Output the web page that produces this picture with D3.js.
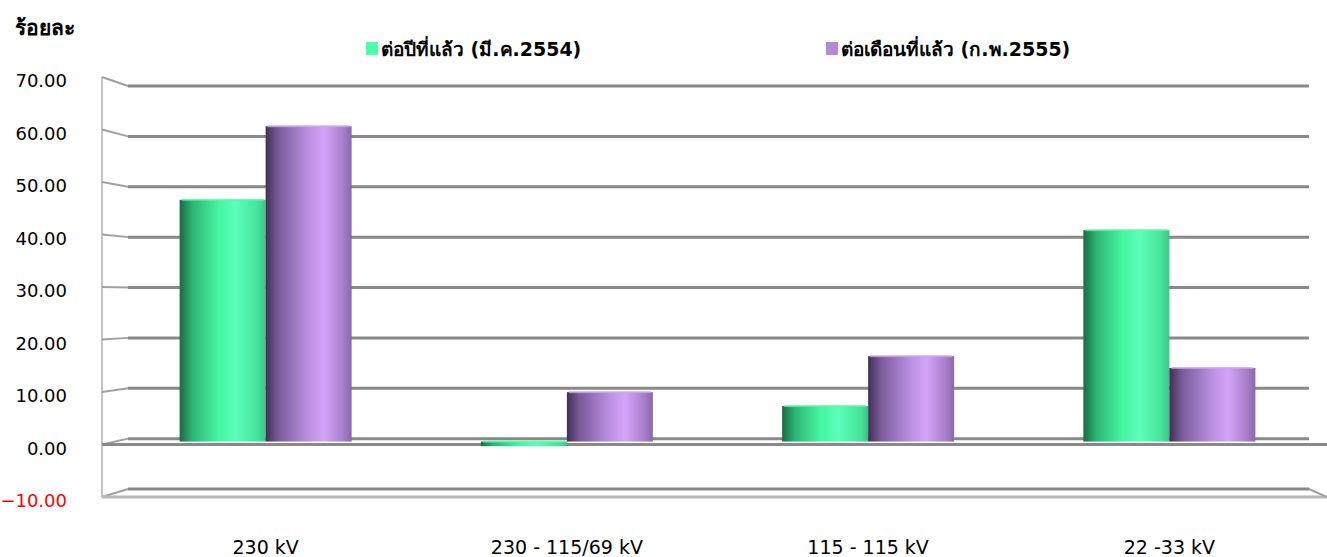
<!DOCTYPE html>
<html>
<head>
<meta charset="utf-8">
<script src="https://cdn.jsdelivr.net/npm/d3@7"></script>
<style>
  body { margin: 0; background: #fff; }
  text { font-family: Tahoma, "DejaVu Sans", "Noto Sans", sans-serif; }
</style>
</head>
<body>
<svg width="1327" height="557"></svg>
<script>
const categories = ["230 kV", "230 - 115/69 kV", "115 - 115 kV", "22 -33 kV"];
const seriesNames = ["ต่อปีที่แล้ว (มี.ค.2554)", "ต่อเดือนที่แล้ว (ก.พ.2555)"];
const yearValues = [47.0, -0.9, 6.9, 41.1];
const monthValues = [61.3, 9.6, 16.6, 14.3];
const ticks = [-10, 0, 10, 20, 30, 40, 50, 60, 70];

const svg = d3.select("svg");
const defs = svg.append("defs");

// cylinder shading
function gradient(id, stops) {
  const g = defs.append("linearGradient").attr("id", id)
    .attr("x1", "0%").attr("x2", "100%").attr("y1", "0%").attr("y2", "0%");
  stops.forEach(([o, c]) => g.append("stop").attr("offset", o).attr("stop-color", c));
}
gradient("gGreen", [["0%", "#1b6a42"], ["15%", "#2db574"], ["45%", "#44f59f"], ["65%", "#5cffbb"], ["90%", "#46e49b"], ["100%", "#38c784"]]);
gradient("gPurple", [["0%", "#3f3156"], ["15%", "#7b5b9b"], ["50%", "#bb90e2"], ["68%", "#d3a4f8"], ["90%", "#a87eca"], ["100%", "#8c66ae"]]);

const yBack = d3.scaleLinear().domain([-10, 70]).range([489, 86]);
const yFront = d3.scaleLinear().domain([-10, 70]).range([497, 77]);
const yBar = d3.scaleLinear().domain([-10, 70]).range([493, 81.5]);

const x0 = d3.scaleBand().domain(categories).range([115, 1320]);
const x1 = d3.scaleBand().domain([0, 1]).range([0, 172]);
const groupLeft = c => x0(c) + (x0.bandwidth() - 172) / 2;

// left wall
svg.append("line").attr("x1", 102).attr("x2", 102).attr("y1", yFront(70)).attr("y2", yFront(-10))
  .attr("stroke", "#c4c4c4").attr("stroke-width", 2);

// gridlines (back wall) + side diagonals
const grid = svg.append("g");
ticks.forEach(t => {
  grid.append("line").attr("x1", 128).attr("x2", 1309).attr("y1", yBack(t)).attr("y2", yBack(t))
    .attr("stroke", "#898989").attr("stroke-width", 3);
  grid.append("line").attr("x1", 102).attr("x2", 128).attr("y1", yFront(t)).attr("y2", yBack(t))
    .attr("stroke", "#a0a0a0").attr("stroke-width", 2);
});
// floor front edges
[0, -10].forEach(t => {
  svg.append("line").attr("x1", 102).attr("x2", 1327).attr("y1", yFront(t)).attr("y2", yFront(t))
    .attr("stroke", t === 0 ? "#898989" : "#b8b8b8").attr("stroke-width", 3);
});
svg.append("line").attr("x1", 1309).attr("x2", 1327).attr("y1", yBack(-10)).attr("y2", yFront(-10))
  .attr("stroke", "#a0a0a0").attr("stroke-width", 2);

// bars
const rows = categories.map((c, i) => [yearValues[i], monthValues[i]]);
const fills = ["url(#gGreen)", "url(#gPurple)"];
const tops = ["#62f0ad", "#c9a4ea"];
const bars = svg.append("g");
categories.forEach((c, i) => {
  rows[i].forEach((v, s) => {
    const x = groupLeft(c) + x1(s);
    const w = x1.bandwidth();
    const y0 = yBar(0), y = yBar(v);
    const top = Math.min(y0, y), h = Math.max(Math.abs(y0 - y), 3);
    bars.append("rect").attr("x", x).attr("y", top).attr("width", w).attr("height", h)
      .attr("fill", fills[s]);
    bars.append("rect").attr("x", x + 2).attr("y", top - 1).attr("width", w - 4).attr("height", 2)
      .attr("fill", tops[s]).attr("opacity", 0.8);
  });
});

// y labels
svg.append("g").selectAll("text").data(ticks).enter().append("text")
  .attr("x", 67).attr("y", d => yFront(d) + 10)
  .attr("text-anchor", "end").attr("font-size", 18)
  .attr("fill", d => d < 0 ? "#ff0000" : "#000")
  .text(d => d3.format(".2f")(d));

svg.append("text").attr("x", 15).attr("y", 35).attr("font-size", 21).attr("font-weight", "bold")
  .text("ร้อยละ");

// category labels
svg.append("g").selectAll("text").data(categories).enter().append("text")
  .attr("x", d => groupLeft(d) + 86).attr("y", 554)
  .attr("text-anchor", "middle").attr("font-size", 19)
  .text(d => d);

// legend
const legendX = [366, 826];
const legendCol = ["#4dffa6", "#b888dd"];
seriesNames.forEach((n, i) => {
  svg.append("rect").attr("x", legendX[i]).attr("y", 42).attr("width", 12).attr("height", 13)
    .attr("fill", legendCol[i]);
  svg.append("text").attr("x", legendX[i] + 15).attr("y", 56).attr("font-size", 19)
    .attr("font-weight", "bold").text(n);
});
</script>
</body>
</html>
